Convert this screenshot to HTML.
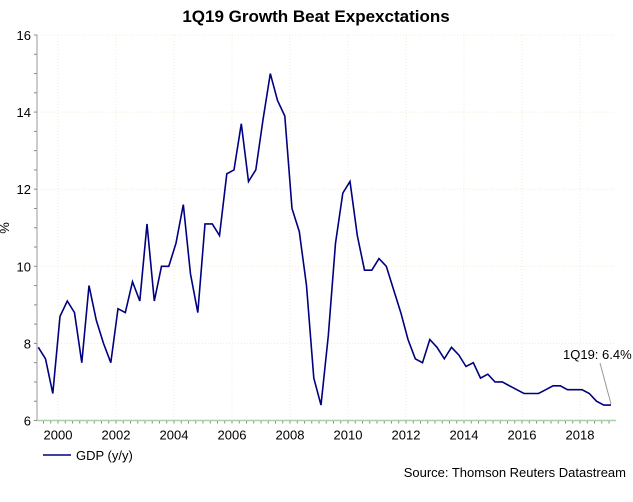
<!DOCTYPE html>
<html><head><meta charset="utf-8"><style>
body{margin:0;background:#fff;}
svg text{font-family:"Liberation Sans",Arial,sans-serif;}
</style></head><body>
<svg id="chart" width="633" height="497" viewBox="0 0 633 497" xmlns="http://www.w3.org/2000/svg">
<rect width="633" height="497" fill="#fff"/>
<text x="316" y="22" text-anchor="middle" font-size="17" font-weight="bold" fill="#000">1Q19 Growth Beat Expexctations</text>
<text x="9" y="228" text-anchor="middle" font-size="13" fill="#000" transform="rotate(-90 9 228)">%</text>
<g id="grid"></g>
<g id="axes"></g>
<polyline id="line" fill="none" stroke="#000080" stroke-width="1.6"/>
<line x1="600" y1="363" x2="611" y2="404" stroke="#999" stroke-width="1"/>
<text x="563" y="359" font-size="13" fill="#000">1Q19: 6.4%</text>
<line x1="43" y1="455" x2="71" y2="455" stroke="#000080" stroke-width="1.6"/>
<text x="76" y="460" font-size="13" fill="#000">GDP (y/y)</text>
<text x="626" y="477" text-anchor="end" font-size="13" fill="#000">Source: Thomson Reuters Datastream</text>
</svg>
<script>
const startYear = 1999.32;
const gdpValues = [7.9,7.6,6.7,
8.7,9.1,8.8,7.5, 9.5,8.6,8.0,7.5, 8.9,8.8,9.6,9.1, 11.1,9.1,10.0,10.0,
10.6,11.6,9.8,8.8, 11.1,11.1,10.8,12.4, 12.5,13.7,12.2,12.5, 13.8,15.0,14.3,13.9,
11.5,10.9,9.5,7.1, 6.4,8.2,10.6,11.9, 12.2,10.8,9.9,9.9, 10.2,10.0,9.4,8.8,
8.1,7.6,7.5,8.1, 7.9,7.6,7.9,7.7, 7.4,7.5,7.1,7.2, 7.0,7.0,6.9,6.8,
6.7,6.7,6.7,6.8, 6.9,6.9,6.8,6.8, 6.8,6.7,6.5,6.4, 6.4];
const yTicks = [6,8,10,12,14,16];
const xTicks = [2000,2002,2004,2006,2008,2010,2012,2014,2016,2018];

const NS="http://www.w3.org/2000/svg";
const L=37,R=616,T=35,B=420.5;
const xs = y => 58 + (y-2000)*29;
const ys = v => B - (v-6)*(B-T)/10;
function mk(tag,attrs,parent){const e=document.createElementNS(NS,tag);for(const k in attrs)e.setAttribute(k,attrs[k]);parent.appendChild(e);return e;}
const grid=document.getElementById('grid'), axes=document.getElementById('axes');
yTicks.forEach(v=>{
  if(v>6){const g=mk('line',{x1:L,x2:R,y1:ys(v),y2:ys(v),stroke:'#f0ecd0','stroke-dasharray':'1,2'},grid);
  
  }
  const t=mk('text',{x:L-6,y:ys(v)+5,'text-anchor':'end','font-size':'13',fill:'#000'},axes);
  t.textContent=v;
  
  
});
for(let v=6;v<=16.001;v+=0.5){mk('line',{x1:L-3,x2:L,y1:ys(v),y2:ys(v),stroke:'#888'},axes);}
xTicks.forEach(yr=>{
  const g=mk('line',{x1:xs(yr),x2:xs(yr),y1:T,y2:B,stroke:'#f0ecd0','stroke-dasharray':'1,2'},grid);
  
  
  const t=mk('text',{x:xs(yr),y:B+19,'text-anchor':'middle','font-size':'13',fill:'#000'},axes);
  t.textContent=yr;
  
  
});
for(let q=1999.25;q<=2019.3;q+=0.25){const x=xs(q);if(x>=L&&x<=R)mk('line',{x1:x,x2:x,y1:B,y2:B+3,stroke:'#888'},axes);}
const la=mk('line',{x1:L,x2:L,y1:T,y2:B,stroke:'#999'},axes);


const ba=mk('line',{x1:L,x2:R,y1:B,y2:B,stroke:'#a8cfa8','stroke-width':'1.5'},axes);


document.getElementById('line').setAttribute('points',gdpValues.map((v,i)=>xs(startYear+i*0.25).toFixed(1)+','+ys(v).toFixed(1)).join(' '));
</script>
</body></html>
